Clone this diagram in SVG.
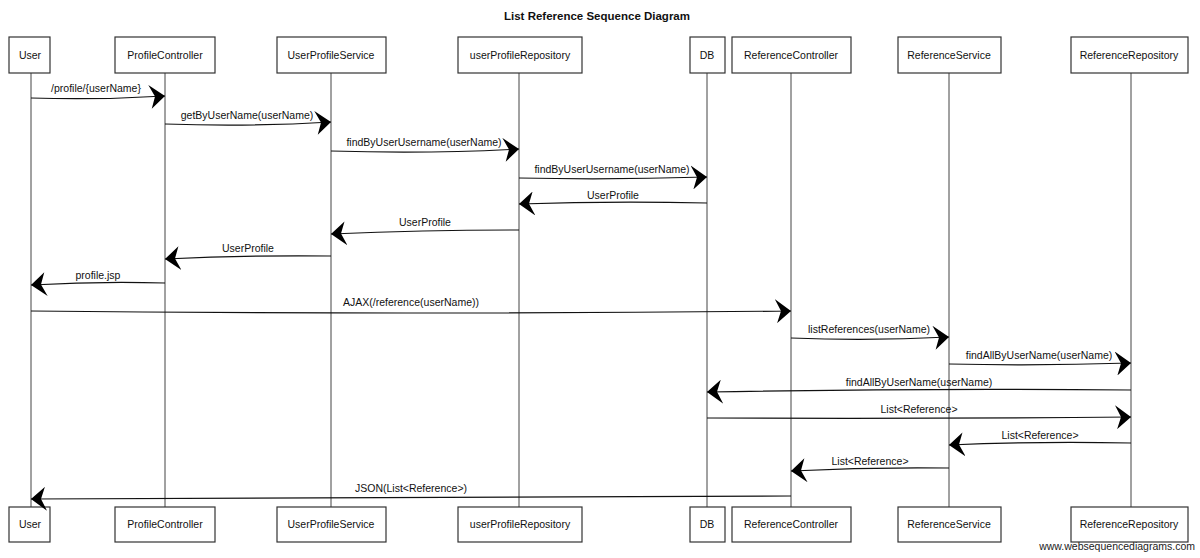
<svg xmlns="http://www.w3.org/2000/svg" width="1200" height="558" viewBox="0 0 1200 558">
<style>
.box{fill:#fff;stroke:#333;stroke-width:1.2}
.life{stroke:#444;stroke-width:1;fill:none}
.msg{stroke:#111;stroke-width:1.2;fill:none}
.t{font-family:"Liberation Sans",Arial,sans-serif;font-size:10.5px;fill:#111;text-anchor:middle}
.title{font-family:"Liberation Sans",Arial,sans-serif;font-size:11.5px;font-weight:bold;fill:#111;text-anchor:middle}
.wm{font-family:"Liberation Sans",Arial,sans-serif;font-size:10.5px;fill:#222;text-anchor:end}
</style>
<defs>
<marker id="ah" markerUnits="userSpaceOnUse" markerWidth="18" markerHeight="24" refX="16" refY="12" orient="auto">
<path d="M0,0 L16,12 L2,24 L6,12 Z" fill="#000"/>
</marker>
</defs>
<rect width="1200" height="558" fill="#fff"/>
<text class="title" x="597" y="20">List Reference Sequence Diagram</text>
<g id="lifelines">
<line class="life" x1="31" y1="73" x2="31" y2="507"/>
<line class="life" x1="165" y1="73" x2="165" y2="507"/>
<line class="life" x1="331" y1="73" x2="331" y2="507"/>
<line class="life" x1="519" y1="73" x2="519" y2="507"/>
<line class="life" x1="707" y1="73" x2="707" y2="507"/>
<line class="life" x1="791" y1="73" x2="791" y2="507"/>
<line class="life" x1="949" y1="73" x2="949" y2="507"/>
<line class="life" x1="1131" y1="73" x2="1131" y2="507"/>
</g>
<g id="p-user"><rect class="box" x="9" y="37" width="41" height="36"/><text class="t" x="30" y="59">User</text>
<rect class="box" x="9" y="507" width="41" height="35"/><text class="t" x="30" y="528">User</text></g>
<g id="p-profilecontroller"><rect class="box" x="115" y="37" width="100" height="36"/><text class="t" x="165" y="59">ProfileController</text>
<rect class="box" x="115" y="507" width="100" height="35"/><text class="t" x="165" y="528">ProfileController</text></g>
<g id="p-userprofileservice"><rect class="box" x="277" y="37" width="109" height="36"/><text class="t" x="331" y="59">UserProfileService</text>
<rect class="box" x="277" y="507" width="109" height="35"/><text class="t" x="331" y="528">UserProfileService</text></g>
<g id="p-userprofilerepository"><rect class="box" x="458" y="37" width="124" height="36"/><text class="t" x="520" y="59">userProfileRepository</text>
<rect class="box" x="458" y="507" width="124" height="35"/><text class="t" x="520" y="528">userProfileRepository</text></g>
<g id="p-db"><rect class="box" x="690" y="37" width="35" height="36"/><text class="t" x="707" y="59">DB</text>
<rect class="box" x="690" y="507" width="35" height="35"/><text class="t" x="707" y="528">DB</text></g>
<g id="p-referencecontroller"><rect class="box" x="732" y="37" width="119" height="36"/><text class="t" x="791" y="59">ReferenceController</text>
<rect class="box" x="732" y="507" width="119" height="35"/><text class="t" x="791" y="528">ReferenceController</text></g>
<g id="p-referenceservice"><rect class="box" x="898" y="37" width="103" height="36"/><text class="t" x="949" y="59">ReferenceService</text>
<rect class="box" x="898" y="507" width="103" height="35"/><text class="t" x="949" y="528">ReferenceService</text></g>
<g id="p-referencerepository"><rect class="box" x="1071" y="37" width="117" height="36"/><text class="t" x="1129" y="59">ReferenceRepository</text>
<rect class="box" x="1071" y="507" width="117" height="35"/><text class="t" x="1129" y="528">ReferenceRepository</text></g>
<g id="connectors">
<path class="msg" marker-end="url(#ah)" d="M31,98 Q100,100 165,96"/>
<path class="msg" marker-end="url(#ah)" d="M165,124 Q250,127 331,122"/>
<path class="msg" marker-end="url(#ah)" d="M331,151 Q430,154 519,149"/>
<path class="msg" marker-end="url(#ah)" d="M519,178 Q610,180 707,177"/>
<path class="msg" marker-end="url(#ah)" d="M707,203 Q610,201 519,204"/>
<path class="msg" marker-end="url(#ah)" d="M519,230 Q430,230 331,234"/>
<path class="msg" marker-end="url(#ah)" d="M331,256 Q250,255 165,259"/>
<path class="msg" marker-end="url(#ah)" d="M165,283 Q100,281 31,285"/>
<path class="msg" marker-end="url(#ah)" d="M31,311 Q400,315 791,311"/>
<path class="msg" marker-end="url(#ah)" d="M791,338 Q870,341 949,337"/>
<path class="msg" marker-end="url(#ah)" d="M949,364 Q1040,366 1131,363"/>
<path class="msg" marker-end="url(#ah)" d="M1131,390 Q920,388 707,392"/>
<path class="msg" marker-end="url(#ah)" d="M707,418 Q920,419 1131,417"/>
<path class="msg" marker-end="url(#ah)" d="M1131,443 Q1040,441 949,445"/>
<path class="msg" marker-end="url(#ah)" d="M949,468 Q870,467 791,471"/>
<path class="msg" marker-end="url(#ah)" d="M791,496 Q400,496 31,499"/>
</g>
<g id="labels">
<text class="t" x="96" y="92">/profile/{userName}</text>
<text class="t" x="247" y="119">getByUserName(userName)</text>
<text class="t" x="424" y="146">findByUserUsername(userName)</text>
<text class="t" x="612" y="173">findByUserUsername(userName)</text>
<text class="t" x="613" y="199">UserProfile</text>
<text class="t" x="425" y="226">UserProfile</text>
<text class="t" x="248" y="252">UserProfile</text>
<text class="t" x="98" y="279">profile.jsp</text>
<text class="t" x="411" y="306">AJAX(/reference(userName))</text>
<text class="t" x="869" y="333">listReferences(userName)</text>
<text class="t" x="1039" y="359">findAllByUserName(userName)</text>
<text class="t" x="919" y="386">findAllByUserName(userName)</text>
<text class="t" x="919" y="413">List&lt;Reference&gt;</text>
<text class="t" x="1040" y="439">List&lt;Reference&gt;</text>
<text class="t" x="870" y="465">List&lt;Reference&gt;</text>
<text class="t" x="411" y="492">JSON(List&lt;Reference&gt;)</text>
</g>
<text class="wm" x="1195" y="550">www.websequencediagrams.com</text>
</svg>
